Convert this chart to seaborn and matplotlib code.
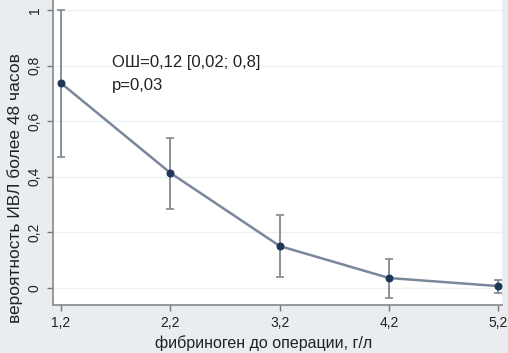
import matplotlib
matplotlib.use("Agg")
import matplotlib.pyplot as plt
import seaborn as sns
import pandas as pd
import numpy as np

fibrinogen = [1.2, 2.2, 3.2, 4.2, 5.2]
probability = [0.737, 0.414, 0.151, 0.036, 0.007]
ci_low = [0.47, 0.284, 0.04, -0.036, -0.018]
ci_high = [1.0, 0.54, 0.263, 0.104, 0.029]
xtick_labels = ["1,2", "2,2", "3,2", "4,2", "5,2"]
ytick_vals = [0, 0.2, 0.4, 0.6, 0.8, 1]
ytick_labels = ["0", "0,2", "0,4", "0,6", "0,8", "1"]

sns.set_style("white")
plt.rcParams['font.family'] = ['Liberation Sans Narrow', 'Liberation Sans', 'DejaVu Sans']

df = pd.DataFrame({"x": fibrinogen, "y": probability})

fig = plt.figure(figsize=(5.08, 3.53), dpi=100, facecolor="#e9edf0")
ax = fig.add_axes([53/508, 1 - 305/353, (502-53)/508, 305/353])
ax.set_facecolor("white")

for v in ytick_vals:
    ax.axhline(v, color="#eef1f4", lw=1.0, zorder=0)

yerr = [np.array(probability) - np.array(ci_low), np.array(ci_high) - np.array(probability)]
ax.errorbar(fibrinogen, probability, yerr=yerr, fmt="none", ecolor="#7f8891",
            elinewidth=1.3, capsize=3, capthick=1.2, zorder=2)
sns.lineplot(data=df, x="x", y="y", ax=ax, color="#7a879a", lw=1.8, zorder=3,
             marker="o", markersize=5, markerfacecolor="#1f3658", markeredgecolor="#1f3658")

ax.set_xlim(1.127, 5.232)
ax.set_ylim(-0.061, 1.036)
ax.set_xticks(fibrinogen)
ax.set_xticklabels(xtick_labels, fontsize=10, color="#222222")
ax.set_yticks(ytick_vals)
ax.set_yticklabels(ytick_labels, fontsize=10, color="#222222", rotation=90, va="center")
ax.tick_params(axis="both", direction="out", length=4, width=1, color="#777777", pad=4)
ax.tick_params(left=True, bottom=True)

for s in ["top", "right"]:
    ax.spines[s].set_visible(False)
for s in ["left", "bottom"]:
    ax.spines[s].set_color("#888888")
    ax.spines[s].set_linewidth(1.2)

ax.set_xlabel("фибриноген до операции, г/л", fontsize=11.5, color="#222222")
ax.set_ylabel("вероятность ИВЛ более 48 часов", fontsize=12.5, color="#222222")
ax.xaxis.set_label_coords(0.468, -0.125)
ax.yaxis.set_label_coords(-0.085, 0.384)
ax.xaxis.label.set_va("center")
ax.yaxis.label.set_va("center")

ax.text(1.67, 0.81, "ОШ=0,12 [0,02; 0,8]", fontsize=12, color="#222222", va="center")
ax.text(1.67, 0.73, "p=0,03", fontsize=12, color="#222222", va="center")

fig.savefig("out.png", dpi=100, facecolor=fig.get_facecolor())
